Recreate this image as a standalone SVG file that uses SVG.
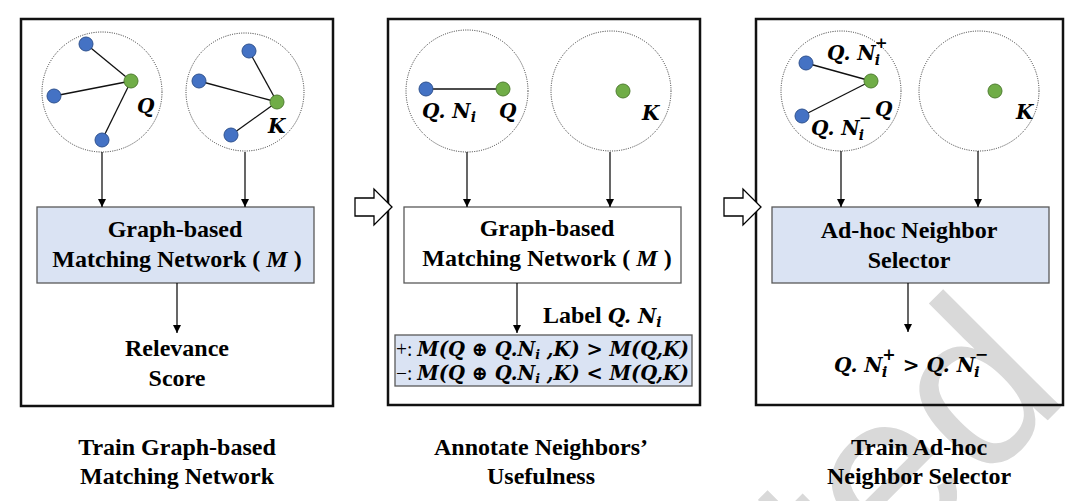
<svg xmlns="http://www.w3.org/2000/svg" width="1080" height="501" viewBox="0 0 1080 501">
<defs>
<marker id="ah" viewBox="0 0 10 10" refX="10" refY="5" markerWidth="8" markerHeight="8" markerUnits="userSpaceOnUse" orient="auto">
<path d="M0,0 L10,5 L0,10 z" fill="#000"/>
</marker>
<style>
.panel{fill:none;stroke:#111;stroke-width:2.5}
.box{stroke:#595959;stroke-width:1.3}
.blue{fill:#dae3f3}
.white{fill:#fff}
.ring{fill:none;stroke:#333;stroke-width:1;stroke-dasharray:1 1.3}
.edge{stroke:#111;stroke-width:1.3}
.bn{fill:#4472c4;stroke:#2f528f;stroke-width:1}
.gn{fill:#70ad47;stroke:#507e32;stroke-width:1}
.conn{stroke:#000;stroke-width:1.2;fill:none;marker-end:url(#ah)}
.t{font-family:"Liberation Serif","Times New Roman",serif;font-weight:bold;font-size:24px;fill:#000;text-anchor:middle}
.m{font-family:"DejaVu Serif","Liberation Serif",serif;font-weight:bold;font-style:italic;font-size:20px;fill:#000}
.r{font-family:"Liberation Serif",serif;font-style:normal;font-weight:normal}
.rb{font-family:"Liberation Serif",serif;font-style:normal;font-weight:bold;font-size:24px}
.hollow{fill:#fff;stroke:#000;stroke-width:1.3}
.wm{font-family:"Liberation Sans",Arial,sans-serif;font-weight:normal;font-size:230px;fill:#d9d9d9;text-anchor:end}
</style>
</defs>
<rect width="1080" height="501" fill="#fff"/>
<text class="wm" transform="translate(1072,396) rotate(-45)">ted</text>

<g id="panel1">
<rect class="panel" x="21" y="19" width="312" height="387"/>
<g id="p1-graphQ">
<circle class="ring" cx="102" cy="92" r="60"/>
<line class="edge" x1="131" y1="81" x2="86" y2="44"/>
<line class="edge" x1="131" y1="81" x2="54" y2="96"/>
<line class="edge" x1="131" y1="81" x2="102" y2="140"/>
<circle class="bn" cx="86" cy="44" r="7"/>
<circle class="bn" cx="54" cy="96" r="7"/>
<circle class="bn" cx="102" cy="140" r="7"/>
<circle class="gn" cx="131" cy="81" r="7"/>
<text class="m" x="137" y="113" font-size="22">Q</text>
</g>
<g id="p1-graphK">
<circle class="ring" cx="245" cy="92" r="59"/>
<line class="edge" x1="277" y1="102" x2="249" y2="51"/>
<line class="edge" x1="277" y1="102" x2="199" y2="81"/>
<line class="edge" x1="277" y1="102" x2="231" y2="135"/>
<circle class="bn" cx="249" cy="51" r="7"/>
<circle class="bn" cx="199" cy="81" r="7"/>
<circle class="bn" cx="231" cy="135" r="7"/>
<circle class="gn" cx="277" cy="102" r="7"/>
<text class="m" x="268" y="133" font-size="22">K</text>
</g>
<g id="p1-matching">
<rect class="box blue" x="37" y="207" width="277" height="76"/>
<text class="t" x="175" y="237">Graph-based</text>
<text class="t" x="177" y="267">Matching Network ( <tspan font-style="italic">M</tspan> )</text>
</g>
<g id="p1-score">
<text class="t" x="177" y="356">Relevance</text>
<text class="t" x="177" y="386">Score</text>
</g>
</g>

<g id="panel2">
<rect class="panel" x="388" y="19" width="312" height="386"/>
<g id="p2-graphQ">
<circle class="ring" cx="467" cy="91" r="61"/>
<line class="edge" x1="426" y1="89" x2="503" y2="89"/>
<circle class="bn" cx="426" cy="89" r="7"/>
<circle class="gn" cx="503" cy="89" r="7"/>
<text class="m" x="422" y="118" font-size="21">Q. N<tspan font-size="14" dy="4">i</tspan></text>
<text class="m" x="499" y="118" font-size="21">Q</text>
</g>
<g id="p2-graphK">
<circle class="ring" cx="611" cy="91" r="60"/>
<circle class="gn" cx="623" cy="91" r="7"/>
<text class="m" x="642" y="120" font-size="21">K</text>
</g>
<g id="p2-matching">
<rect class="box white" x="404" y="207" width="277" height="76"/>
<text class="t" x="547" y="236">Graph-based</text>
<text class="t" x="547" y="266">Matching Network ( <tspan font-style="italic">M</tspan> )</text>
</g>
<g id="p2-label">
<text class="m" x="543" y="323" font-size="21"><tspan class="rb">Label </tspan>Q. N<tspan font-size="14" dy="4">i</tspan></text>
</g>
<g id="p2-rule">
<rect class="box blue" x="395" y="335" width="297" height="51"/>
<text class="m" x="396" y="356" font-size="19" textLength="293" lengthAdjust="spacingAndGlyphs"><tspan class="r">+: </tspan>M(Q ⊕ Q.N<tspan font-size="13" dy="3">i</tspan><tspan dy="-3"> ,K) &gt; M(Q,K)</tspan></text>
<text class="m" x="396" y="380" font-size="19" textLength="293" lengthAdjust="spacingAndGlyphs"><tspan class="r">−: </tspan>M(Q ⊕ Q.N<tspan font-size="13" dy="3">i</tspan><tspan dy="-3"> ,K) &lt; M(Q,K)</tspan></text>
</g>
</g>

<g id="panel3">
<rect class="panel" x="756" y="19" width="307" height="386"/>
<g id="p3-graphQ">
<circle class="ring" cx="841" cy="91" r="60"/>
<line class="edge" x1="871" y1="81" x2="806" y2="63"/>
<line class="edge" x1="871" y1="81" x2="802" y2="116"/>
<circle class="bn" cx="806" cy="63" r="7"/>
<circle class="bn" cx="802" cy="116" r="7"/>
<circle class="gn" cx="871" cy="81" r="7"/>
<text class="m" x="827" y="60" font-size="21">Q. N<tspan font-size="14" dx="-1" dy="5">i</tspan><tspan font-size="15" dx="-5" dy="-17">+</tspan></text>
<text class="m" x="875" y="116" font-size="21">Q</text>
<text class="m" x="811" y="135" font-size="21">Q. N<tspan font-size="14" dx="-1" dy="5">i</tspan><tspan font-size="15" dx="-5" dy="-17">−</tspan></text>
</g>
<g id="p3-graphK">
<circle class="ring" cx="979" cy="91" r="60"/>
<circle class="gn" cx="995" cy="91" r="7"/>
<text class="m" x="1016" y="119" font-size="21">K</text>
</g>
<g id="p3-selector">
<rect class="box blue" x="772" y="207" width="277" height="76"/>
<text class="t" x="909" y="238">Ad-hoc Neighbor</text>
<text class="t" x="909" y="268">Selector</text>
</g>
<g id="p3-result">
<text class="m" x="834" y="372" font-size="22">Q. N<tspan font-size="15" dx="-1" dy="5">i</tspan><tspan font-size="16" dx="-5" dy="-17">+</tspan><tspan dy="12"> &gt; Q. N</tspan><tspan font-size="15" dx="-1" dy="5">i</tspan><tspan font-size="16" dx="-5" dy="-17">−</tspan></text>
</g>
</g>

<g id="step-arrows">
<polygon class="hollow" points="355,198 374,198 374,189 392,207 374,225 374,216 355,216"/>
<polygon class="hollow" points="724,198 743,198 743,189 761,207 743,225 743,216 724,216"/>
</g>

<g id="connectors">
<line class="conn" x1="102" y1="152" x2="102" y2="207"/>
<line class="conn" x1="245" y1="152" x2="245" y2="207"/>
<line class="conn" x1="177" y1="283" x2="177" y2="333"/>
<line class="conn" x1="467" y1="152" x2="467" y2="207"/>
<line class="conn" x1="610" y1="152" x2="610" y2="207"/>
<line class="conn" x1="517" y1="283" x2="517" y2="333"/>
<line class="conn" x1="841" y1="151" x2="841" y2="207"/>
<line class="conn" x1="978" y1="151" x2="978" y2="207"/>
<line class="conn" x1="908" y1="283" x2="908" y2="332"/>
</g>

<g id="titles">
<text class="t" x="177" y="455">Train Graph-based</text>
<text class="t" x="177" y="484">Matching Network</text>
<text class="t" x="541" y="455">Annotate Neighbors’</text>
<text class="t" x="541" y="484">Usefulness</text>
<text class="t" x="919" y="455">Train Ad-hoc</text>
<text class="t" x="919" y="484">Neighbor Selector</text>
</g>
</svg>
